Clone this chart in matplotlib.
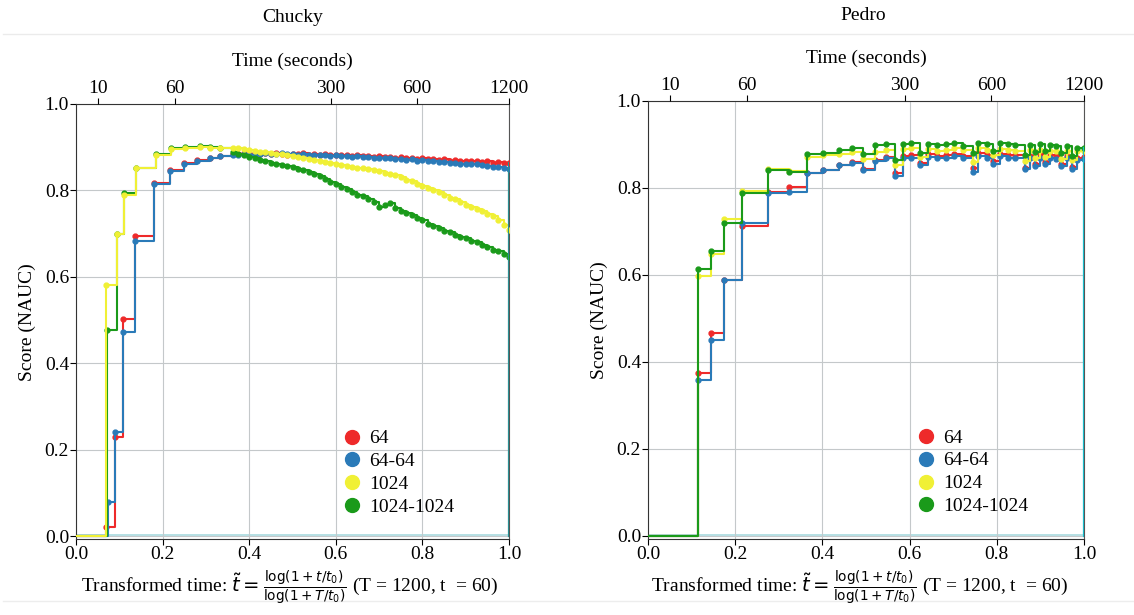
import matplotlib.pyplot as plt
import numpy as np
from matplotlib.lines import Line2D

plt.rcParams['font.family'] = 'serif'
plt.rcParams['font.serif'] = ['Liberation Serif', 'DejaVu Serif']
plt.rcParams['mathtext.fontset'] = 'dejavusans'

T_MAX = 1200
T0 = 60

labels = ['64', '64-64', '1024', '1024-1024']
colors = ['#ee2a2a', '#2a7ab8', '#f0f035', '#1a9a1a']
time_ticks = [10, 60, 300, 600, 1200]

# --- Chucky: early steps (one x list per series) ---
chucky_x_red = [0.0, 0.069, 0.090, 0.109, 0.136, 0.180, 0.217, 0.249, 0.279, 0.310, 0.333, 0.3625]
chucky_x_blue = [0.0, 0.073, 0.090, 0.109, 0.136, 0.180, 0.217, 0.249, 0.279, 0.310, 0.333, 0.3625]
chucky_x_yellow = [0.0, 0.069, 0.094, 0.111, 0.139, 0.184, 0.219, 0.252, 0.286, 0.310, 0.333, 0.3625]
chucky_x_green = [0.0, 0.072, 0.094, 0.111, 0.139, 0.184, 0.219, 0.252, 0.286, 0.310, 0.333, 0.3625]

chucky_red_early = [0.0, 0.022, 0.230, 0.502, 0.695, 0.818, 0.847, 0.864, 0.870, 0.876, 0.880, 0.884]
chucky_blue_early = [0.0, 0.079, 0.241, 0.473, 0.683, 0.815, 0.845, 0.862, 0.868, 0.874, 0.879, 0.883]
chucky_yellow_early = [0.0, 0.581, 0.699, 0.789, 0.851, 0.883, 0.895, 0.898, 0.900, 0.899, 0.899, 0.898]
chucky_green_early = [0.0, 0.477, 0.700, 0.795, 0.852, 0.885, 0.897, 0.900, 0.902, 0.901, 0.898, 0.889]

# --- Chucky: dense tail, sampled every 0.0125 from 0.375 to 1.0 ---
chucky_tail_x = np.linspace(0.375, 1.0, 51)
chucky_red_tail = [0.885, 0.886, 0.884, 0.886, 0.885, 0.887, 0.884, 0.886, 0.885, 0.883,
                   0.885, 0.884, 0.886, 0.883, 0.885, 0.882, 0.884, 0.882, 0.883, 0.881,
                   0.882, 0.880, 0.881, 0.879, 0.880, 0.878, 0.879, 0.877, 0.878, 0.876,
                   0.877, 0.874, 0.876, 0.873, 0.874, 0.872, 0.873, 0.871, 0.872, 0.869,
                   0.871, 0.868, 0.869, 0.867, 0.868, 0.866, 0.867, 0.864, 0.866, 0.863,
                   0.864]
chucky_blue_tail = [0.882, 0.884, 0.883, 0.885, 0.884, 0.886, 0.884, 0.885, 0.886, 0.884,
                    0.885, 0.883, 0.885, 0.882, 0.883, 0.881, 0.882, 0.880, 0.881, 0.879,
                    0.880, 0.878, 0.879, 0.877, 0.878, 0.876, 0.876, 0.874, 0.875, 0.873,
                    0.873, 0.871, 0.872, 0.869, 0.870, 0.867, 0.868, 0.866, 0.866, 0.864,
                    0.864, 0.862, 0.862, 0.860, 0.860, 0.858, 0.857, 0.855, 0.855, 0.852,
                    0.849]
chucky_yellow_tail = [0.898, 0.896, 0.893, 0.892, 0.890, 0.889, 0.887, 0.885, 0.884, 0.881,
                      0.879, 0.877, 0.876, 0.873, 0.871, 0.868, 0.866, 0.863, 0.860, 0.859,
                      0.857, 0.854, 0.853, 0.851, 0.849, 0.847, 0.845, 0.841, 0.838, 0.835,
                      0.830, 0.825, 0.821, 0.815, 0.810, 0.806, 0.801, 0.797, 0.790, 0.783,
                      0.779, 0.773, 0.767, 0.762, 0.758, 0.752, 0.746, 0.741, 0.732, 0.721,
                      0.709]
chucky_green_tail = [0.885, 0.881, 0.878, 0.874, 0.870, 0.868, 0.864, 0.861, 0.859, 0.857,
                     0.854, 0.850, 0.847, 0.842, 0.838, 0.833, 0.826, 0.820, 0.815, 0.808,
                     0.803, 0.797, 0.790, 0.786, 0.779, 0.772, 0.762, 0.766, 0.771, 0.760,
                     0.753, 0.748, 0.742, 0.735, 0.731, 0.722, 0.718, 0.712, 0.705, 0.703,
                     0.697, 0.692, 0.689, 0.683, 0.680, 0.673, 0.669, 0.662, 0.659, 0.653,
                     0.647]

# --- Pedro: shared step positions ---
pedro_x = [0.0, 0.114, 0.145, 0.174, 0.215, 0.275, 0.324, 0.364, 0.402, 0.437,
           0.467, 0.494, 0.521, 0.547, 0.567, 0.586, 0.603, 0.624, 0.643, 0.663,
           0.683, 0.703, 0.723, 0.746, 0.758, 0.778, 0.792, 0.808, 0.825, 0.842,
           0.865, 0.876, 0.888, 0.899, 0.910, 0.922, 0.935, 0.948, 0.960, 0.972,
           0.983, 1.0]
pedro_red = [0.0, 0.375, 0.466, 0.589, 0.713, 0.790, 0.803, 0.835, 0.841, 0.853,
             0.859, 0.843, 0.865, 0.872, 0.835, 0.873, 0.875, 0.858, 0.877, 0.873,
             0.876, 0.879, 0.874, 0.845, 0.880, 0.876, 0.862, 0.879, 0.876, 0.875,
             0.847, 0.874, 0.856, 0.877, 0.860, 0.875, 0.873, 0.855, 0.874, 0.848,
             0.870, 0.872]
pedro_blue = [0.0, 0.359, 0.451, 0.589, 0.719, 0.789, 0.790, 0.835, 0.841, 0.853,
              0.857, 0.841, 0.863, 0.868, 0.828, 0.869, 0.870, 0.853, 0.872, 0.868,
              0.870, 0.873, 0.868, 0.837, 0.874, 0.870, 0.855, 0.873, 0.870, 0.868,
              0.843, 0.868, 0.850, 0.870, 0.855, 0.869, 0.866, 0.850, 0.868, 0.843,
              0.864, 0.866]
pedro_yellow = [0.0, 0.598, 0.648, 0.728, 0.794, 0.843, 0.840, 0.872, 0.876, 0.878,
                0.882, 0.866, 0.883, 0.888, 0.853, 0.889, 0.891, 0.872, 0.890, 0.886,
                0.888, 0.891, 0.887, 0.860, 0.892, 0.888, 0.876, 0.890, 0.888, 0.886,
                0.862, 0.887, 0.868, 0.888, 0.872, 0.886, 0.884, 0.866, 0.885, 0.864,
                0.884, 0.885]
pedro_green = [0.0, 0.613, 0.654, 0.720, 0.788, 0.841, 0.836, 0.877, 0.881, 0.887,
               0.892, 0.877, 0.899, 0.901, 0.864, 0.900, 0.903, 0.880, 0.902, 0.898,
               0.900, 0.903, 0.897, 0.880, 0.904, 0.900, 0.886, 0.903, 0.900, 0.898,
               0.876, 0.898, 0.882, 0.900, 0.884, 0.899, 0.896, 0.880, 0.897, 0.874,
               0.893, 0.893]


def transform(t):
    return np.log(1 + np.asarray(t, dtype=float) / T0) / np.log(1 + T_MAX / T0)


def draw_panel(ax, xs, ys, order, drop_color):
    # faint baseline and the drop to zero at the right edge
    ax.axhline(0.002, color='#a9dadf', lw=1.2, zorder=1)
    for i in order:
        ax.plot(xs[i], ys[i], drawstyle='steps-post', color=colors[i], lw=1.5,
                marker='o', ms=3.5, markevery=slice(1, None), zorder=3 + order.index(i))
    top = max(y[-1] for y in ys)
    ax.plot([1.0, 1.0], [0.0, top], color=drop_color, lw=1.6, zorder=8)

    ax.set_xlim(0, 1)
    ax.set_ylim(-0.008, 1.0)
    ax.set_xticks([0.0, 0.2, 0.4, 0.6, 0.8, 1.0])
    ax.set_yticks([0.0, 0.2, 0.4, 0.6, 0.8, 1.0])
    ax.xaxis.set_major_formatter(plt.FormatStrFormatter('%.1f'))
    ax.yaxis.set_major_formatter(plt.FormatStrFormatter('%.1f'))
    ax.grid(True, color='#c4c8ca', lw=0.8)
    ax.tick_params(labelsize=14, length=4, width=0.8, pad=1)
    ax.set_ylabel('Score (NAUC)', fontsize=14, labelpad=6)
    for side in ['left', 'bottom', 'top']:
        ax.spines[side].set_color('#333333')
    ax.spines['right'].set_color('#555555')

    # time axis on top
    ax2 = ax.twiny()
    ax2.set_xlim(0, 1)
    ax2.set_xticks(transform(time_ticks))
    ax2.set_xticklabels([str(t) for t in time_ticks])
    ax2.tick_params(labelsize=14, length=4, width=0.8, pad=1)
    ax2.set_xlabel('Time (seconds)', fontsize=14, labelpad=10)
    for sp in ax2.spines.values():
        sp.set_visible(False)

    handles = [Line2D([], [], ls='', marker='o', ms=10, color=c) for c in colors]
    ax.legend(handles, labels, loc='upper left', bbox_to_anchor=(0.615, 0.252),
              frameon=False, fontsize=14, handlelength=1.0, handletextpad=0.4,
              labelspacing=0.27, borderpad=0, borderaxespad=0)


fig = plt.figure(figsize=(11.34, 6.15), dpi=100)

ax_l = fig.add_axes([0.067, 0.1228, 0.3819, 0.7081])
chucky_xs = [chucky_x_red + list(chucky_tail_x), chucky_x_blue + list(chucky_tail_x),
             chucky_x_yellow + list(chucky_tail_x), chucky_x_green + list(chucky_tail_x)]
chucky_ys = [chucky_red_early + chucky_red_tail, chucky_blue_early + chucky_blue_tail,
             chucky_yellow_early + chucky_yellow_tail, chucky_green_early + chucky_green_tail]
draw_panel(ax_l, chucky_xs, chucky_ys, [0, 1, 3, 2], '#2a8f92')

ax_r = fig.add_axes([0.5714, 0.1228, 0.3845, 0.7130])
draw_panel(ax_r, [pedro_x] * 4, [pedro_red, pedro_blue, pedro_yellow, pedro_green],
           [0, 1, 2, 3], '#1bbccb')

# panel titles and separators
fig.text(293 / 1134, 1 - 18 / 615, 'Chucky', ha='center', va='center', fontsize=14)
fig.text(863 / 1134, 1 - 15 / 615, 'Pedro', ha='center', va='center', fontsize=14)
fig.add_artist(Line2D([0.003, 1.0], [1 - 34 / 615, 1 - 34 / 615], color='#ebebeb', lw=1))
fig.add_artist(Line2D([0.003, 1.0], [1 - 601 / 615, 1 - 601 / 615], color='#ededed', lw=1))

xlabel = (r'Transformed time: $\tilde{t} = \frac{\log(1 + t/t_0)}{\log(1 + T/t_0)}$'
          r' (T = 1200, t  = 60)')
fig.text(290 / 1134, 1 - 588 / 615, xlabel, ha='center', va='center', fontsize=14)
fig.text(860 / 1134, 1 - 588 / 615, xlabel, ha='center', va='center', fontsize=14)

fig.savefig('out.png', dpi=100)
